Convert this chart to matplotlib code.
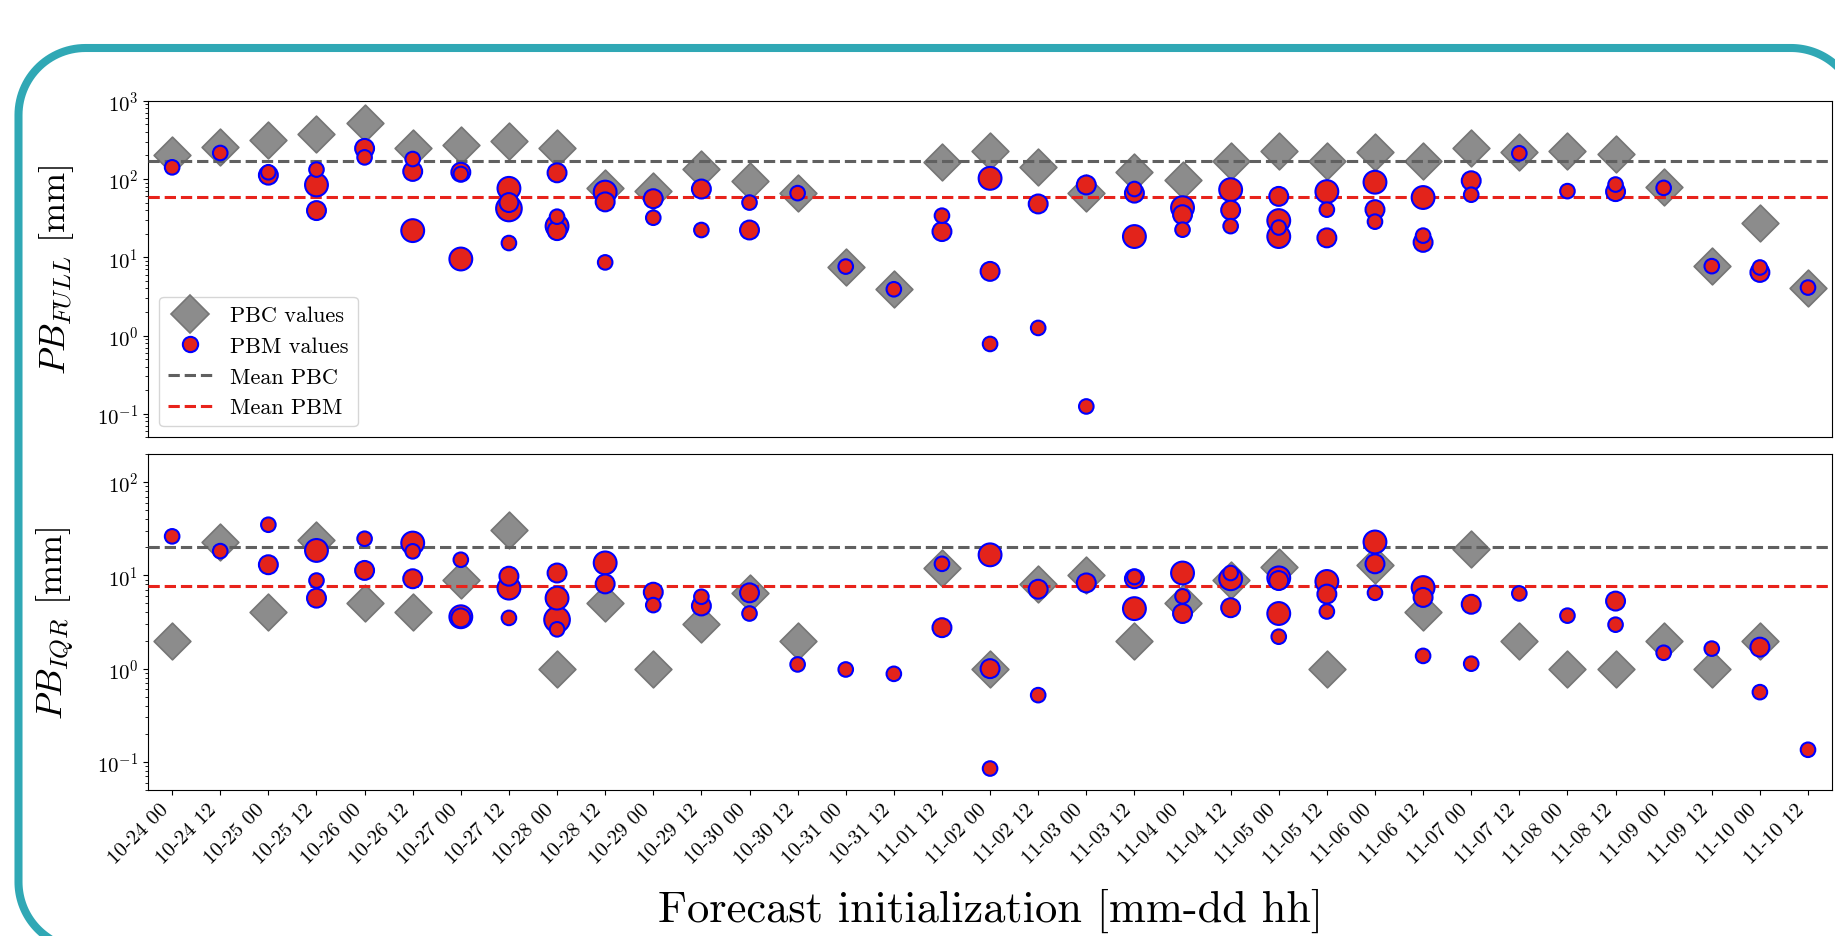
import numpy as np
import matplotlib
matplotlib.use("Agg")
import matplotlib.pyplot as plt
from matplotlib.lines import Line2D
from matplotlib.transforms import IdentityTransform

plt.rcParams['font.family'] = 'serif'
plt.rcParams['font.serif'] = ['cmr10']
plt.rcParams['mathtext.fontset'] = 'cm'
plt.rcParams['axes.formatter.use_mathtext'] = True

init_labels = ['10-24 00', '10-24 12', '10-25 00', '10-25 12', '10-26 00', '10-26 12',
               '10-27 00', '10-27 12', '10-28 00', '10-28 12', '10-29 00', '10-29 12',
               '10-30 00', '10-30 12', '10-31 00', '10-31 12', '11-01 12', '11-02 00',
               '11-02 12', '11-03 00', '11-03 12', '11-04 00', '11-04 12', '11-05 00',
               '11-05 12', '11-06 00', '11-06 12', '11-07 00', '11-07 12', '11-08 00',
               '11-08 12', '11-09 00', '11-09 12', '11-10 00', '11-10 12']

# PBC per initialization (one value each)
pbc_full = [202, 259, 315, 375, 519, 249, 272, 308, 249, 77, 71, 134, 95, 66, 7.6, 3.9,
            163, 230, 141, 66, 124, 98, 171, 225, 171, 223, 168, 246, 219, 230, 208, 80,
            7.7, 27.2, 4.1]
pbc_iqr = [2, 23, 4, 24, 5, 4, 9, 31, 1, 5, 1, 3, 6.4, 2, np.nan, np.nan,
           12, 1, 8, 10, 2, 5, 9, 12.3, 1, 13, 4, 19.3, 2, 1, 1, 2, 1, 2, np.nan]

# PBM per initialization (several members) and marker size class (1 small .. 4 largest)
pbm_full = [[141], [215], [112, 122], [132, 84, 39.5], [246, 189], [180, 125, 21.9],
            [122, 116, 9.5], [76, 50, 42, 15.2], [120, 33, 25, 21.9], [68, 51, 8.6],
            [56, 32], [74.5, 22.3], [50, 22.3], [66], [7.6], [3.9], [34, 21.3],
            [102, 6.6, 0.78], [48, 1.25], [84, 0.124], [74.5, 66, 18.4], [43, 35, 22.5],
            [73, 40, 25], [60, 29.4, 24, 18.4], [69, 40.6, 17.7], [91, 40.6, 28.5],
            [58, 18.9, 15.5], [95, 63], [213], [70], [85, 69], [77], [7.7], [7.4, 6.4], [4.1]]
pbm_full_size = [[1], [1], [2, 1], [1, 3, 2], [2, 1], [1, 2, 3], [2, 1, 3], [3, 2, 4, 1],
                 [2, 1, 3, 2], [3, 2, 1], [2, 1], [2, 1], [1, 2], [1], [1], [1], [1, 2],
                 [3, 2, 1], [2, 1], [2, 1], [1, 2, 3], [3, 2, 1], [3, 2, 1], [2, 3, 1, 3],
                 [3, 1, 2], [3, 2, 1], [3, 1, 2], [2, 1], [1], [1], [1, 2], [1], [1], [1, 2], [1]]

pbm_iqr = [[26.2], [18.2], [34.9, 13], [18.5, 8.8, 5.7], [24.7, 11.3], [22.2, 18.1, 9.2],
           [14.7, 3.6, 3.5], [9.8, 7.3, 3.5], [10.6, 5.7, 3.35, 2.64], [13.6, 8.1],
           [6.6, 4.8], [5.9, 4.7], [6.5, 3.9], [1.11], [0.98], [0.88], [13.3, 2.75],
           [16.6, 1.0, 0.085], [7.1, 0.52], [8.3], [9.6, 9.2, 4.4], [10.6, 5.96, 3.9],
           [10.6, 9.2, 4.5], [9.4, 8.8, 3.9, 2.2], [8.6, 6.3, 4.1], [22.8, 13.3, 6.5],
           [7.4, 5.8, 1.37], [4.9, 1.13], [6.4], [3.7], [5.3, 2.96], [1.48], [1.64],
           [1.7, 0.56], [0.135]]
pbm_iqr_size = [[1], [1], [1, 2], [3, 1, 2], [1, 2], [3, 1, 2], [1, 3, 2], [2, 3, 1],
                [2, 3, 4, 1], [3, 2], [2, 1], [1, 2], [2, 1], [1], [1], [1], [1, 2],
                [3, 2, 1], [2, 1], [2], [1, 2, 3], [3, 1, 2], [1, 3, 2], [3, 2, 3, 1],
                [3, 2, 1], [3, 2, 1], [3, 2, 1], [2, 1], [1], [1], [2, 1], [1], [1], [2, 1], [1]]

mean_pbc_full = 171
mean_pbm_full = 59.5
mean_pbc_iqr = 20
mean_pbm_iqr = 7.6

SIZE_S = {1: 110, 2: 185, 3: 270, 4: 340}
PBC_FACE = '#8c8c8c'
PBC_EDGE = '#767676'
PBM_FACE = '#e3231b'
PBM_EDGE = '#0000ff'
MEAN_PBC_COLOR = '#606060'
MEAN_PBM_COLOR = '#e8231b'


def draw_panel(ax, pbc, pbm, pbm_size, mean_pbc, mean_pbm, ylim, ylabel):
    x = np.arange(len(init_labels))
    ax.scatter(x, pbc, marker='D', s=350, c=PBC_FACE, edgecolors=PBC_EDGE,
               linewidths=1.2, zorder=2)
    pts = [(i, v, s) for i, (vals, sz) in enumerate(zip(pbm, pbm_size))
           for v, s in zip(vals, sz)]
    pts.sort(key=lambda p: -p[2])
    ax.scatter([p[0] for p in pts], [p[1] for p in pts], marker='o',
               s=[SIZE_S[p[2]] for p in pts], c=PBM_FACE, edgecolors=PBM_EDGE,
               linewidths=1.5, zorder=4)
    ax.axhline(mean_pbc, color=MEAN_PBC_COLOR, ls='--', lw=2.2, zorder=3)
    ax.axhline(mean_pbm, color=MEAN_PBM_COLOR, ls='--', lw=2.2, zorder=3)
    ax.set_yscale('log')
    ax.set_ylim(*ylim)
    ax.set_xlim(-0.5, len(init_labels) - 0.5)
    ax.set_ylabel(ylabel, fontsize=26, labelpad=15)
    ax.tick_params(axis='y', labelsize=15)
    ax.tick_params(axis='x', labelsize=15)


def rounded_frame(fig, left, top, bottom, right, radius, color, lw):
    # open outline (pixel coords) of a rounded box that runs past the canvas
    # on the right and at the bottom; only the visible part is traced
    w, h = fig.bbox.width, fig.bbox.height
    t = h - top
    b = h - bottom
    cx_r, cy_t = right - radius, t - radius
    ang_r = np.degrees(np.arccos(min(1.0, (w + 5 - cx_r) / radius)))
    a1 = np.radians(np.linspace(ang_r, 90, 30))
    cx_l = left + radius
    a2 = np.radians(np.linspace(90, 180, 30))
    cy_b = b + radius
    ang_b = 180 + np.degrees(np.arcsin(min(1.0, (cy_b + 5) / radius)))
    a3 = np.radians(np.linspace(180, ang_b, 30))
    xs = np.concatenate([cx_r + radius * np.cos(a1), cx_l + radius * np.cos(a2),
                         cx_l + radius * np.cos(a3)])
    ys = np.concatenate([cy_t + radius * np.sin(a1), cy_t + radius * np.sin(a2),
                         cy_b + radius * np.sin(a3)])
    fig.add_artist(Line2D(xs, ys, transform=IdentityTransform(), color=color, lw=lw,
                          solid_joinstyle='round', clip_on=False))


fig = plt.figure(figsize=(18.35, 9.37), dpi=100)
ax1 = fig.add_axes([0.0807, 0.5322, 0.9177, 0.3592])
ax2 = fig.add_axes([0.0807, 0.1558, 0.9177, 0.3586], sharex=ax1)

draw_panel(ax1, pbc_full, pbm_full, pbm_full_size, mean_pbc_full, mean_pbm_full,
           (0.05, 1000), r'$PB_{FULL}$ [mm]')
draw_panel(ax2, pbc_iqr, pbm_iqr, pbm_iqr_size, mean_pbc_iqr, mean_pbm_iqr,
           (0.05, 200), r'$PB_{IQR}$ [mm]')

ax1.tick_params(axis='x', bottom=False, labelbottom=False)
ax2.set_xticks(np.arange(len(init_labels)))
ax2.set_xticklabels(init_labels, rotation=45, ha='right')
ax2.set_xlabel('Forecast initialization [mm-dd hh]', fontsize=32, labelpad=15)

handles = [
    Line2D([], [], marker='D', ls='none', ms=19, mfc=PBC_FACE, mec=PBC_EDGE, mew=1.2,
           label='PBC values'),
    Line2D([], [], marker='o', ls='none', ms=11, mfc=PBM_FACE, mec=PBM_EDGE, mew=1.5,
           label='PBM values'),
    Line2D([], [], color=MEAN_PBC_COLOR, ls='--', lw=2.2, label='Mean PBC'),
    Line2D([], [], color=MEAN_PBM_COLOR, ls='--', lw=2.2, label='Mean PBM'),
]
ax1.legend(handles=handles, loc='lower left', fontsize=16)

rounded_frame(fig, left=18.5, top=49, bottom=950, right=1858, radius=67,
              color='#30a8b5', lw=5.8)

fig.savefig('out.png', dpi=100)
